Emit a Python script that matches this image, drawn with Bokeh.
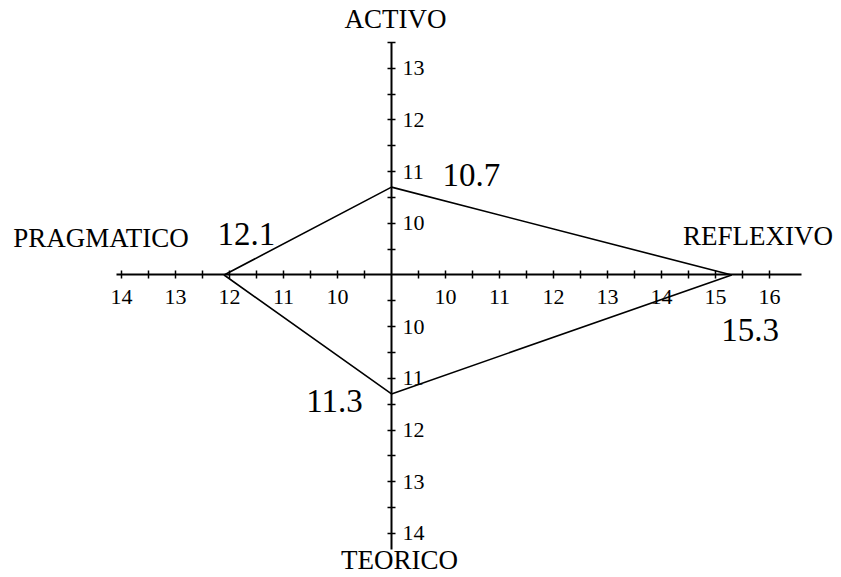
from bokeh.plotting import figure
from bokeh.models import LinearAxis, FixedTicker, Range1d, ColumnDataSource, Label
from bokeh.embed import file_html
from bokeh.resources import INLINE
from bokeh.core.properties import value

# ---------------- data ----------------
dimensions = ["ACTIVO", "REFLEXIVO", "TEORICO", "PRAGMATICO"]
scores = [10.7, 15.3, 11.3, 12.1]
score_labels = ["10.7", "15.3", "11.3", "12.1"]
origin = 9.0                      # value at the crossing point of the axes

right_labels = [10, 11, 12, 13, 14, 15, 16]   # REFLEXIVO half-axis
left_labels = [10, 11, 12, 13, 14]            # PRAGMATICO half-axis
up_labels = [10, 11, 12, 13]                  # ACTIVO half-axis
down_labels = [10, 11, 12, 13, 14]            # TEORICO half-axis

# ---------------- helpers ----------------
FONT = "Liberation Serif"

def half_steps(top):
    n = int(round((top - (origin + 0.5)) / 0.5)) + 1
    return [origin + 0.5 + 0.5 * i for i in range(n)]

# direction of each dimension: (dx, dy)
direction = {"ACTIVO": (0, 1), "REFLEXIVO": (1, 0), "TEORICO": (0, -1), "PRAGMATICO": (-1, 0)}

xs, ys = [], []
for d, s in zip(dimensions, scores):
    dx, dy = direction[d]
    xs.append(dx * (s - origin))
    ys.append(dy * (s - origin))

# ---------------- figure ----------------
p = figure(width=841, height=577, output_backend="svg", toolbar_location=None,
           x_axis_type=None, y_axis_type=None,
           x_range=Range1d(-7.2407, 8.3333), y_range=Range1d(-5.8511, 5.3095),
           min_border=0, outline_line_color=None, background_fill_color="white")
p.grid.visible = False

# horizontal axis (crosses at origin)
x_ticks_right = half_steps(max(right_labels))
x_ticks_left = half_steps(max(left_labels))
x_ticks = [v - origin for v in x_ticks_right] + [-(v - origin) for v in x_ticks_left]
x_over = {}
for v in x_ticks_right:
    x_over[v - origin] = str(int(v)) if v in right_labels else ""
for v in x_ticks_left:
    x_over[-(v - origin)] = str(int(v)) if v in left_labels else ""

xaxis = LinearAxis(ticker=FixedTicker(ticks=x_ticks, minor_ticks=[]),
                   major_label_overrides=x_over,
                   bounds=(-(14.1 - origin), 16.6 - origin))
p.add_layout(xaxis, "below")
xaxis.fixed_location = 0

# vertical axis (crosses at origin)
y_ticks_up = half_steps(max(up_labels) + 0.5)
y_ticks_down = half_steps(max(down_labels))
y_ticks = [v - origin for v in y_ticks_up] + [-(v - origin) for v in y_ticks_down]
y_over = {}
for v in y_ticks_up:
    y_over[v - origin] = str(int(v)) if v in up_labels else ""
for v in y_ticks_down:
    y_over[-(v - origin)] = str(int(v)) if v in down_labels else ""

yaxis = LinearAxis(ticker=FixedTicker(ticks=y_ticks, minor_ticks=[]),
                   major_label_overrides=y_over,
                   bounds=(-(14.3 - origin), 13.5 - origin))
p.add_layout(yaxis, "right")
yaxis.fixed_location = 0

for ax, standoff in ((xaxis, 11), (yaxis, 7)):
    ax.axis_line_color = "black"
    ax.axis_line_width = 2
    ax.major_tick_line_color = "black"
    ax.major_tick_line_width = 1.5
    ax.major_tick_in = 4
    ax.major_tick_out = 4
    ax.minor_tick_line_color = None
    ax.major_label_text_font = FONT
    ax.major_label_text_font_size = "22px"
    ax.major_label_text_color = "black"
    ax.major_label_standoff = standoff

# profile polygon
src = ColumnDataSource(dict(x=xs, y=ys, label=score_labels,
                            dx=[80, 18.5, -57, 22.4], dy=[-12.6, 55.5, 6.6, -40.5]))
p.patch(xs + [xs[0]], ys + [ys[0]], fill_color=None, line_color="black", line_width=1.6)

p.text(x="x", y="y", text="label", source=src, x_offset="dx", y_offset="dy",
       text_font=value(FONT), text_font_size="33px", text_align="center",
       text_baseline="middle", text_color="black")

# dimension names
name_pos = {"ACTIVO": (0.074, 4.961), "REFLEXIVO": (6.787, 0.745),
            "TEORICO": (0.148, -5.522), "PRAGMATICO": (-5.38, 0.725)}
for d in dimensions:
    x, y = name_pos[d]
    p.add_layout(Label(x=x, y=y, text=d, text_font=FONT, text_font_size="27px",
                       text_align="center", text_baseline="middle", text_color="black"))

open("out.html", "w").write(file_html(p, INLINE))
